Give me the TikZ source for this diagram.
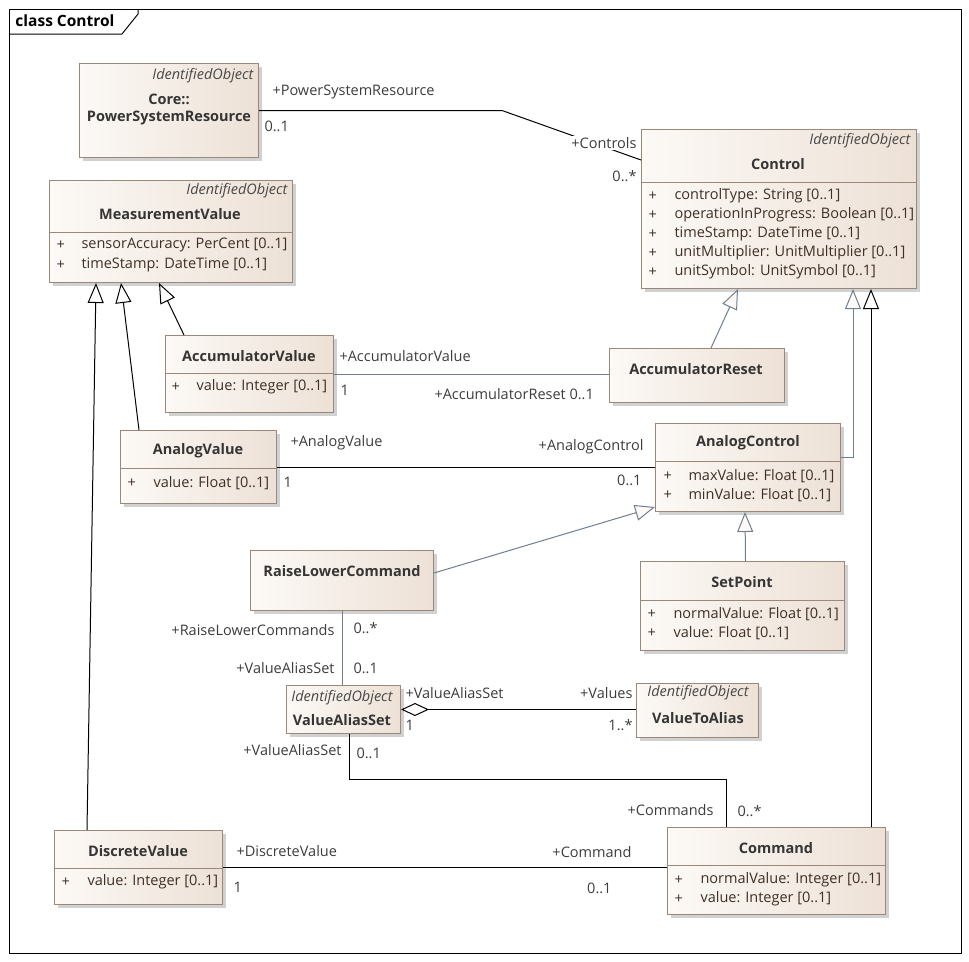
\documentclass[tikz,border=0pt]{standalone}
\usepackage{fontspec}
\setmainfont{Open Sans}
\usetikzlibrary{arrows.meta, positioning, shadows, calc}

\definecolor{boxL}{HTML}{FCF9F6}
\definecolor{boxR}{HTML}{EDE1D6}
\definecolor{boxLine}{HTML}{9A887B}
\definecolor{nameC}{HTML}{353535}
\definecolor{stereoC}{HTML}{484848}
\definecolor{attrC}{HTML}{3F2F24}
\definecolor{labC}{HTML}{3C3C3C}
\definecolor{linkB}{HTML}{6F7E90}
\newcommand{\umlfont}{\fontsize{14.5}{17}\selectfont}

\begin{document}
\begin{tikzpicture}[x=1pt, y=-1pt, line width=1pt, font=\umlfont]
  \tikzstyle{umlbox}=[draw=boxLine, left color=boxL, right color=boxR, anchor=north west, inner sep=0pt,
    drop shadow={shadow xshift=3pt, shadow yshift=-3pt, fill=black!30, opacity=0.6}]
  \tikzstyle{cname}=[font=\umlfont\bfseries, text=nameC, inner sep=0pt]
  \tikzstyle{stereo}=[font=\umlfont\itshape, text=stereoC, inner sep=0pt]
  \tikzstyle{attr}=[text=attrC, anchor=west, inner sep=0pt]
  \tikzstyle{lab}=[text=labC, inner sep=0pt]
  \tikzstyle{divider}=[draw=boxLine]
  \tikzstyle{genK}=[draw=black, -{Triangle[length=20pt,width=16pt,fill=white]}]
  \tikzstyle{genB}=[draw=linkB, -{Triangle[length=20pt,width=16pt,fill=boxL]}]
  \tikzstyle{assocK}=[draw=black]
  \tikzstyle{assocB}=[draw=linkB]

  \useasboundingbox (0,0) rectangle (969,961);

  % frame
  \draw (9,9) rectangle (961,953);
  \draw (9,34) -- (122,34) -- (138,14) -- (138,9);
  \node[cname, anchor=west, font=\fontsize{15.5}{18}\selectfont\bfseries, text=black] (title) at (15,21) {class Control};

  % classes
  \node[umlbox, minimum width=179pt, minimum height=94pt]  (psr)  at (79,63)   {};
  \node[umlbox, minimum width=243pt, minimum height=102pt] (mv)   at (49,180)  {};
  \node[umlbox, minimum width=275pt, minimum height=159pt] (ctl)  at (641,129) {};
  \node[umlbox, minimum width=168pt, minimum height=77pt]  (accv) at (165,335) {};
  \node[umlbox, minimum width=175pt, minimum height=54pt]  (accr) at (609,348) {};
  \node[umlbox, minimum width=156pt, minimum height=73pt]  (anv)  at (120,430) {};
  \node[umlbox, minimum width=185pt, minimum height=88pt]  (anc)  at (655,423) {};
  \node[umlbox, minimum width=183pt, minimum height=60pt]  (rlc)  at (250,550) {};
  \node[umlbox, minimum width=204pt, minimum height=89pt]  (sp)   at (640,561) {};
  \node[umlbox, minimum width=114pt, minimum height=48pt]  (vas)  at (286,685) {};
  \node[umlbox, minimum width=122pt, minimum height=54pt]  (vta)  at (636,683) {};
  \node[umlbox, minimum width=168pt, minimum height=74pt]  (dsv)  at (54,830)  {};
  \node[umlbox, minimum width=218pt, minimum height=87pt]  (cmd)  at (667,827) {};

  % compartments
  \draw[divider] ($(mv.north west)+(0,52)$)   -- ($(mv.north east)+(0,52)$);
  \draw[divider] ($(ctl.north west)+(0,53)$)  -- ($(ctl.north east)+(0,53)$);
  \draw[divider] ($(accv.north west)+(0,38)$) -- ($(accv.north east)+(0,38)$);
  \draw[divider] ($(anv.north west)+(0,38)$)  -- ($(anv.north east)+(0,38)$);
  \draw[divider] ($(anc.north west)+(0,38)$)  -- ($(anc.north east)+(0,38)$);
  \draw[divider] ($(sp.north west)+(0,39)$)   -- ($(sp.north east)+(0,39)$);
  \draw[divider] ($(dsv.north west)+(0,38)$)  -- ($(dsv.north east)+(0,38)$);
  \draw[divider] ($(cmd.north west)+(0,38)$)  -- ($(cmd.north east)+(0,38)$);

  % class texts
  \node[stereo, anchor=east] (psr-st) at (254,76) {IdentifiedObject};
  \node[cname] (psr-n1) at (169,99)  {Core::};
  \node[cname] (psr-n2) at (169,118) {PowerSystemResource};

  \node[stereo, anchor=east] (mv-st) at (288,191) {IdentifiedObject};
  \node[cname] (mv-n) at (170,214) {MeasurementValue};
  \foreach \txt [count=\i from 0] in {sensorAccuracy: PerCent [0..1], timeStamp: DateTime [0..1]} {
    \node[attr] (mv-p\i) at (56,{245+20*\i}) {+};
    \node[attr] (mv-a\i) at (81,{245+20*\i}) {\txt};
  }

  \node[stereo, anchor=east] (ctl-st) at (911,141) {IdentifiedObject};
  \node[cname] (ctl-n) at (778,164) {Control};
  \foreach \txt [count=\i from 0] in {controlType: String [0..1], operationInProgress: Boolean [0..1],
      timeStamp: DateTime [0..1], unitMultiplier: UnitMultiplier [0..1], unitSymbol: UnitSymbol [0..1]} {
    \node[attr] (ctl-p\i) at (648,{196+19*\i}) {+};
    \node[attr] (ctl-a\i) at (674,{196+19*\i}) {\txt};
  }

  \node[cname] (accv-n) at (249,356) {AccumulatorValue};
  \node[attr] (accv-p) at (171,387) {+};
  \node[attr] (accv-a) at (196,387) {value: Integer [0..1]};

  \node[cname] (accr-n) at (696,369) {AccumulatorReset};

  \node[cname] (anv-n) at (198,451) {AnalogValue};
  \node[attr] (anv-p) at (127,483) {+};
  \node[attr] (anv-a) at (153,483) {value: Float [0..1]};

  \node[cname] (anc-n) at (748,443) {AnalogControl};
  \foreach \txt [count=\i from 0] in {maxValue: Float [0..1], minValue: Float [0..1]} {
    \node[attr] (anc-p\i) at (663,{476+19*\i}) {+};
    \node[attr] (anc-a\i) at (688,{476+19*\i}) {\txt};
  }

  \node[cname] (rlc-n) at (342,571) {RaiseLowerCommand};

  \node[cname] (sp-n) at (742,582) {SetPoint};
  \foreach \txt [count=\i from 0] in {normalValue: Float [0..1], value: Float [0..1]} {
    \node[attr] (sp-p\i) at (647,{614+19*\i}) {+};
    \node[attr] (sp-a\i) at (673,{614+19*\i}) {\txt};
  }

  \node[stereo] (vas-st) at (342,698) {IdentifiedObject};
  \node[cname]  (vas-n)  at (342,720) {ValueAliasSet};

  \node[stereo] (vta-st) at (698,693) {IdentifiedObject};
  \node[cname]  (vta-n)  at (698,718) {ValueToAlias};

  \node[cname] (dsv-n) at (138,851) {DiscreteValue};
  \node[attr] (dsv-p) at (61,882) {+};
  \node[attr] (dsv-a) at (87,882) {value: Integer [0..1]};

  \node[cname] (cmd-n) at (776,848) {Command};
  \foreach \txt [count=\i from 0] in {normalValue: Integer [0..1], value: Integer [0..1]} {
    \node[attr] (cmd-p\i) at (674,{880+19*\i}) {+};
    \node[attr] (cmd-a\i) at (700,{880+19*\i}) {\txt};
  }

  % generalizations
  \draw[genK] ($(dsv.north west)+(33,0)$)  -- ($(mv.south west)+(47,0)$);
  \draw[genK] ($(anv.north west)+(19,0)$)  -- ($(mv.south west)+(72,0)$);
  \draw[genK] ($(accv.north west)+(19,0)$) -- ($(mv.south west)+(110,0)$);
  \draw[genB] ($(accr.north west)+(102,0)$) -- ($(ctl.south west)+(97,0)$);
  \draw[genB] ($(anc.north east)+(0,34)$) -| ($(ctl.south west)+(212,0)$);
  \draw[genK] ($(cmd.north west)+(204,0)$) -- ($(ctl.south west)+(230,0)$);
  \draw[genB] ($(rlc.north east)+(0,23)$) -- ($(anc.south west)+(0,-5)$);
  \draw[genB] ($(sp.north)+(3,0)$) -- ($(anc.south west)+(90,0)$);

  % associations
  \draw[assocK] (psr.east) -- ++(243,0) -- ($(ctl.north west)+(0,31)$);
  \draw[assocB] (accv.east) -- (accv.east -| accr.west);
  \draw[assocK] (anv.east) -- (anv.east -| anc.west);
  \draw[assocB] (rlc.south) -- (rlc.south |- vas.north);
  \draw[assocK, {Diamond[length=28pt,width=13pt,fill=white]}-] (vas.east) -- (vas.east -| vta.west);
  \draw[assocK] ($(vas.south west)+(63,0)$) -- ++(0,45) -| ($(cmd.north west)+(59,0)$);
  \draw[assocK] (dsv.east) -- (dsv.east -| cmd.west);

  % association ends
  \node[lab, anchor=west] (l-psr)   at (272,92)  {+PowerSystemResource};
  \node[lab, anchor=west] (m-psr)   at (264,126) {0..1};
  \node[lab, anchor=east, fill=white, inner sep=1pt] (l-ctl) at (638,143) {+Controls};
  \node[lab, anchor=east] (m-ctl)   at (637,176) {0..*};
  \node[lab, anchor=west] (l-accv)  at (339,356) {+AccumulatorValue};
  \node[lab, anchor=west] (m-accv)  at (340,390) {1};
  \node[lab, anchor=west] (l-accr)  at (434,394) {+AccumulatorReset};
  \node[lab, anchor=west] (m-accr)  at (569,394) {0..1};
  \node[lab, anchor=west] (l-anv)   at (290,443) {+AnalogValue};
  \node[lab, anchor=west] (m-anv)   at (283,482) {1};
  \node[lab, anchor=east] (l-anc)   at (644,447) {+AnalogControl};
  \node[lab, anchor=east] (m-anc)   at (642,480) {0..1};
  \node[lab, anchor=east] (l-rlc)   at (335,630) {+RaiseLowerCommands};
  \node[lab, anchor=west] (m-rlc)   at (353,628) {0..*};
  \node[lab, anchor=east] (l-vas1)  at (335,668) {+ValueAliasSet};
  \node[lab, anchor=west] (m-vas1)  at (353,668) {0..1};
  \node[lab, anchor=west] (l-vas2)  at (405,693) {+ValueAliasSet};
  \node[lab, anchor=west] (m-vas2)  at (405,725) {1};
  \node[lab, anchor=east] (l-vta)   at (633,693) {+Values};
  \node[lab, anchor=east] (m-vta)   at (633,725) {1..*};
  \node[lab, anchor=east] (l-vas3)  at (342,750) {+ValueAliasSet};
  \node[lab, anchor=west] (m-vas3)  at (356,753) {0..1};
  \node[lab, anchor=east] (l-cmds)  at (714,810) {+Commands};
  \node[lab, anchor=west] (m-cmds)  at (737,811) {0..*};
  \node[lab, anchor=west] (l-dsv)   at (236,851) {+DiscreteValue};
  \node[lab, anchor=west] (m-dsv)   at (233,887) {1};
  \node[lab, anchor=east] (l-cmd)   at (632,852) {+Command};
  \node[lab, anchor=east] (m-cmd)   at (612,888) {0..1};
\end{tikzpicture}
\end{document}
